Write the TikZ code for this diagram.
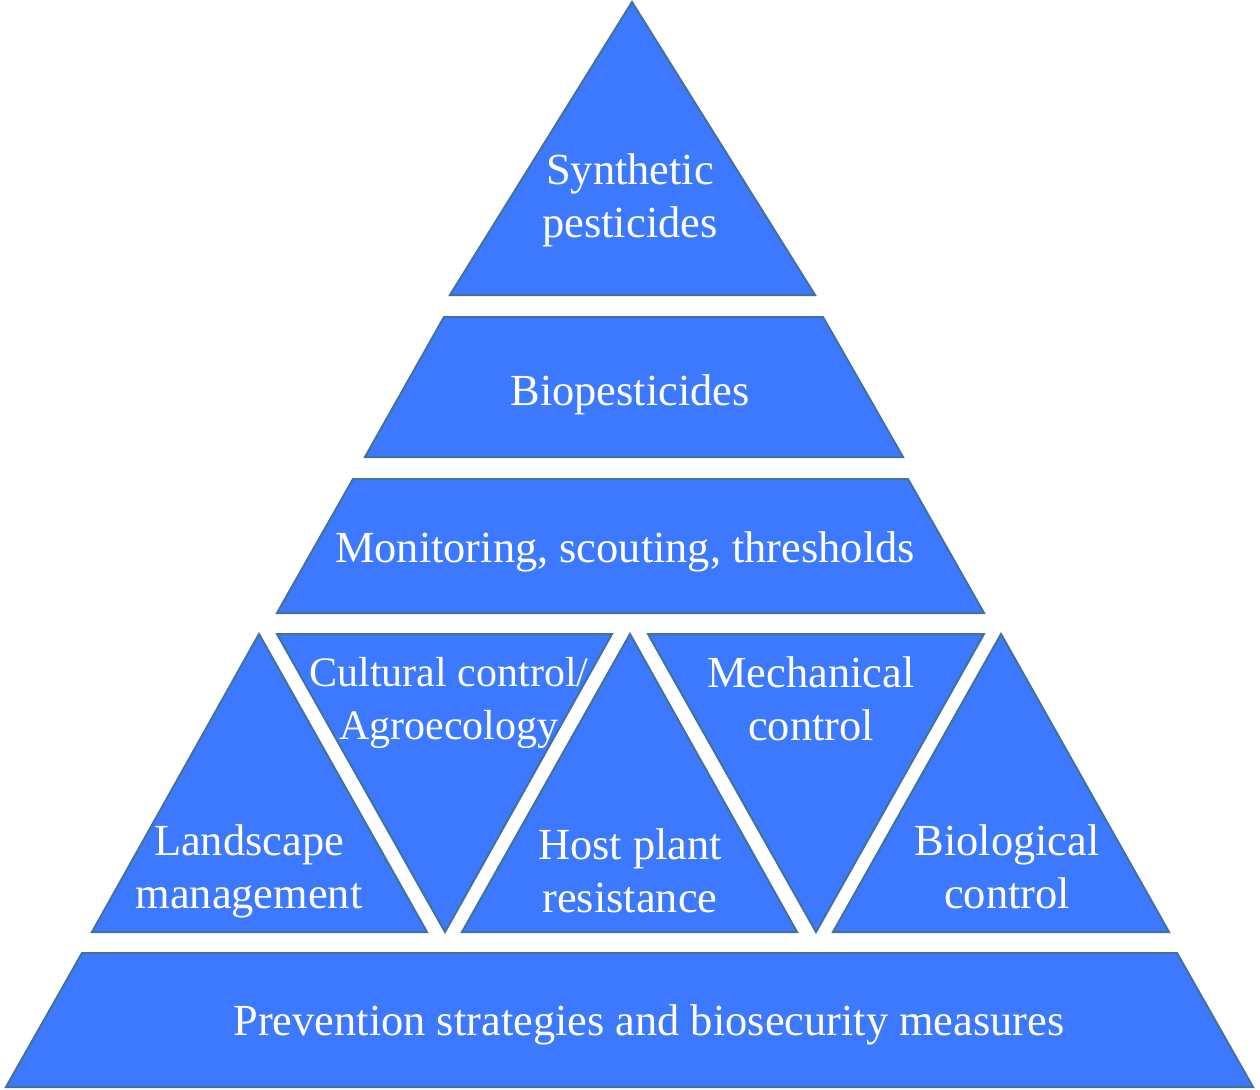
\documentclass[tikz,border=0pt]{standalone}
\usepackage{fontspec}
\setmainfont{Liberation Serif}
\definecolor{tierfill}{HTML}{3D79FE}
\definecolor{tierline}{HTML}{41719C}
\begin{document}
\begin{tikzpicture}[x=1pt,y=-1pt]
\tikzset{
  tier/.style={fill=tierfill,draw=tierline,line width=2pt,line join=miter},
  lbl/.style={text=white,align=center,font=\fontsize{44.4}{53}\selectfont,inner sep=0pt},
  smalllbl/.style={lbl,font=\fontsize{42}{53}\selectfont}
}
\useasboundingbox (0,0) rectangle (1260,1089);
% top triangle
\draw[tier] (632,2) -- (815,295) -- (450,295) -- cycle;
% biopesticides
\draw[tier] (444,317) -- (823,317) -- (903,457) -- (365,457) -- cycle;
% monitoring
\draw[tier] (353,479) -- (908,479) -- (984,613) -- (277,613) -- cycle;
% row of triangles
\draw[tier] (259,634) -- (427,932) -- (92,932) -- cycle;
\draw[tier] (277,634) -- (612,634) -- (445,932) -- cycle;
\draw[tier] (630,634) -- (797,932) -- (462,932) -- cycle;
\draw[tier] (648,634) -- (984,634) -- (816,932) -- cycle;
\draw[tier] (1001,634) -- (1169,932) -- (833,932) -- cycle;
% bottom
\draw[tier] (82,953) -- (1177,953) -- (1253,1087) -- (6,1087) -- cycle;
% labels
\node[lbl] (syn) at (630,200) {Synthetic\\pesticides};
\node[lbl] (bio) at (630,395) {Biopesticides};
\node[lbl] (mon) at (625,552) {Monitoring, scouting, thresholds};
\node[smalllbl] (cul) at (449,703) {Cultural control/\\Agroecology};
\node[lbl] (mec) at (811,699) {Mechanical\\control};
\node[lbl] (lan) at (249,871) {Landscape\\management};
\node[lbl] (hos) at (630,871) {Host plant\\resistance};
\node[lbl] (bcl) at (1007,867) {Biological\\control};
\node[lbl] (pre) at (649,1025) {Prevention strategies and biosecurity measures};
\end{tikzpicture}
\end{document}
